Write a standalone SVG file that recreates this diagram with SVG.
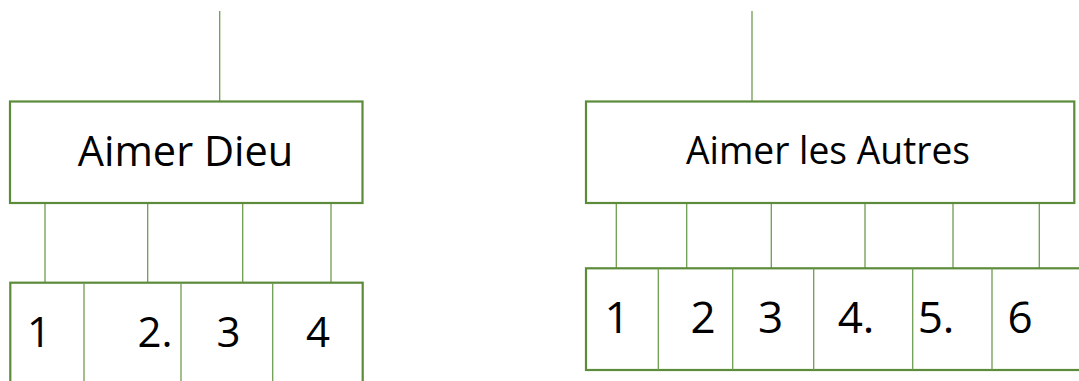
<svg xmlns="http://www.w3.org/2000/svg" width="1079" height="381" viewBox="0 0 1079 381">
<style>
.box{fill:#ffffff;stroke:#5b8b3b;stroke-width:2.2}
.div{stroke:#6f9c50;stroke-width:1.3}
.con{stroke:#6f9c50;stroke-width:1.3;fill:none}
.t{font-family:"Open Sans","Liberation Sans",sans-serif;fill:#000000;text-anchor:middle}
</style>
<rect width="1079" height="381" fill="#ffffff"/>
<g id="connectors">
<line class="con" x1="219.7" y1="11" x2="219.7" y2="101"/>
<line class="con" x1="45" y1="200" x2="45" y2="282.7"/>
<line class="con" x1="147.7" y1="203" x2="147.7" y2="282.7"/>
<line class="con" x1="242.7" y1="203" x2="242.7" y2="282.7"/>
<line class="con" x1="331" y1="203" x2="331" y2="282.7"/>
<line class="con" x1="752" y1="11" x2="752" y2="101"/>
<line class="con" x1="616.3" y1="203" x2="616.3" y2="268.3"/>
<line class="con" x1="686.7" y1="203" x2="686.7" y2="268.3"/>
<line class="con" x1="771.3" y1="200" x2="771.3" y2="268.3"/>
<line class="con" x1="865" y1="200" x2="865" y2="268.3"/>
<line class="con" x1="953" y1="200" x2="953" y2="268.3"/>
<line class="con" x1="1039.3" y1="203" x2="1039.3" y2="268.3"/>
</g>
<g id="node-aimer-dieu">
<rect class="box" x="10" y="101.5" width="352.5" height="101.5"/>
<text class="t" x="185.5" y="165.7" font-size="41.5">Aimer Dieu</text>
</g>
<g id="row-dieu">
<rect class="box" x="10.3" y="282.7" width="352.4" height="120"/>
<line class="div" x1="84" y1="282.7" x2="84" y2="381"/>
<line class="div" x1="181" y1="282.7" x2="181" y2="381"/>
<line class="div" x1="272.7" y1="282.7" x2="272.7" y2="381"/>
</g>
<g id="dieu-1"><text class="t" x="39" y="346.7" font-size="42">1</text></g>
<g id="dieu-2"><text class="t" x="155" y="346.7" font-size="42">2.</text></g>
<g id="dieu-3"><text class="t" x="228.5" y="346.7" font-size="42">3</text></g>
<g id="dieu-4"><text class="t" x="318" y="346.7" font-size="42">4</text></g>
<g id="node-aimer-autres">
<rect class="box" x="586" y="101.5" width="488.3" height="101.5"/>
<text class="t" x="828" y="164" font-size="38" textLength="284" lengthAdjust="spacingAndGlyphs">Aimer les Autres</text>
</g>
<g id="row-autres">
<rect class="box" x="586" y="268.3" width="520" height="101.7"/>
<line class="div" x1="658.3" y1="268.3" x2="658.3" y2="370"/>
<line class="div" x1="732.7" y1="268.3" x2="732.7" y2="370"/>
<line class="div" x1="813.7" y1="268.3" x2="813.7" y2="370"/>
<line class="div" x1="912.7" y1="268.3" x2="912.7" y2="370"/>
<line class="div" x1="992" y1="268.3" x2="992" y2="370"/>
</g>
<g id="autres-1"><text class="t" x="617" y="333.3" font-size="44">1</text></g>
<g id="autres-2"><text class="t" x="703" y="333.3" font-size="44">2</text></g>
<g id="autres-3"><text class="t" x="770.7" y="333.3" font-size="44">3</text></g>
<g id="autres-4"><text class="t" x="856" y="333.3" font-size="44">4.</text></g>
<g id="autres-5"><text class="t" x="936" y="333.3" font-size="44">5.</text></g>
<g id="autres-6"><text class="t" x="1020" y="333.3" font-size="44">6</text></g>
</svg>
